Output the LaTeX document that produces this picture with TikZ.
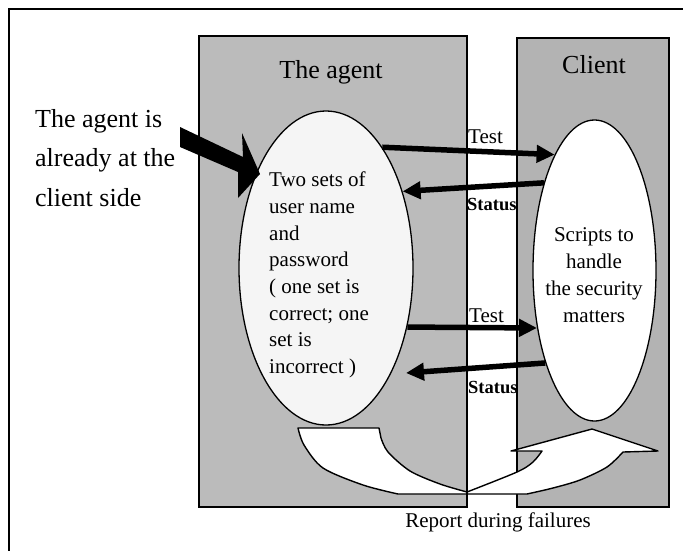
\documentclass[tikz,border=0pt]{standalone}
\usepackage{fontspec}
\setmainfont{Liberation Serif}
\usetikzlibrary{arrows.meta,shapes.geometric}
\definecolor{agentgray}{RGB}{187,187,187}
\definecolor{clientgray}{RGB}{179,179,179}
\definecolor{bubble}{RGB}{245,245,245}
\tikzset{
  panel/.style={draw=black,line width=1.5pt},
  bubbleshape/.style={ellipse,draw=black,line width=1.3pt,inner sep=0pt},
  msg/.style={line width=5.5pt,-{Triangle[length=18pt,width=17pt]}},
  bodytext/.style={inner sep=0pt,font=\fontsize{21}{26.7}\selectfont},
  sidetext/.style={inner sep=0pt,font=\fontsize{26}{39.5}\selectfont},
  labeltext/.style={inner sep=0pt,font=\fontsize{21}{24}\selectfont},
  statustext/.style={inner sep=0pt,font=\fontsize{18.5}{22}\selectfont\bfseries}
}
\begin{document}
\begin{tikzpicture}[x=1pt,y=-1pt]
\useasboundingbox (0,0) rectangle (683,550);
\clip (0,0) rectangle (683,550);
% outer frame
\draw[line width=1.5pt] (9,9) rectangle (720,600);

% the two panels
\draw[panel,fill=agentgray] (199,36) rectangle (467,507);
\draw[panel,fill=clientgray] (517,38) rectangle (669,507);
\node[inner sep=0pt,anchor=base,font=\fontsize{26}{30}\selectfont] (agenttitle) at (331,78) {The agent};
\node[inner sep=0pt,anchor=base,font=\fontsize{26}{30}\selectfont] (clienttitle) at (594,73) {Client};

% the two bubbles
\node[bubbleshape,fill=bubble,minimum width=174pt,minimum height=314pt] (L) at (326,268) {};
\node[bubbleshape,fill=white,minimum width=123pt,minimum height=301pt] (R) at (594.5,270.5) {};

% multi-line texts are placed by the baseline of their last line
\node[bodytext,align=left,anchor=base west] (ltext) at (269,373.5)
  {Two sets of\\user name\\and\\password\\( one set is\\correct; one\\set is\\incorrect )};
\node[bodytext,align=center,anchor=base] (rtext) at (594,322)
  {Scripts to\\handle\\the security\\matters};

% left side remark and its block arrow
\node[sidetext,align=left,anchor=base west] (remark) at (35,206)
  {The agent is\\already at the\\client side};
\fill[black] (180,127) -- (243,157) -- (242,133) -- (260,174) -- (238,198)
  -- (238,172) -- (180,147) -- cycle;

% messages between the bubbles
\coordinate (s4tip) at (406,373);
\draw[msg] (L.65.5) -- (R.109.5);
\draw[msg] (R.120.2) -- (L.45);
\draw[msg] (L.-36.2) -- (R.225.5);
\draw[msg] (R.242.8) -- (s4tip);

\node[labeltext,anchor=base west] (test1) at (468,143) {Test};
\node[statustext,anchor=base west] (status1) at (467,210) {Status};
\node[labeltext,anchor=base west] (test2) at (469,322) {Test};
\node[statustext,anchor=base west] (status2) at (468,393) {Status};

% report path under the bubbles
\draw[line width=1.4pt,fill=white,line join=round]
  (298,428) -- (379,428) -- (381,438)
  -- plot[smooth] coordinates {(381,438) (388,452) (410,471) (440,484) (467,492)}
  -- plot[smooth] coordinates {(467,492) (517,472) (533,462) (542,451)}
  -- (511,451) -- (592,429) -- (658,451) -- (623,452)
  -- plot[smooth] coordinates {(623,452) (607,467) (580,480) (553,488) (527,494)}
  -- (398,494)
  -- plot[smooth] coordinates {(398,494) (363,485) (323,468) (304,445) (298,428)}
  -- cycle;
\draw[line width=1.4pt] (467,492) -- (467,507);

\node[labeltext,anchor=base] (report) at (498,527) {Report during failures};
\end{tikzpicture}
\end{document}
